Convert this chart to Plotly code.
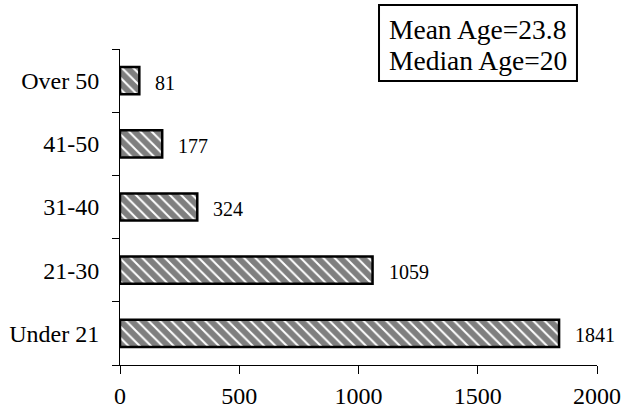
import plotly.graph_objects as go

categories = ["Under 21", "21-30", "31-40", "41-50", "Over 50"]
counts = [1841, 1059, 324, 177, 81]
x_ticks = [0, 500, 1000, 1500, 2000]
stats_text = ["Mean Age=23.8", "Median Age=20"]

FONT = "Liberation Serif, Times New Roman, serif"

fig = go.Figure()
fig.add_trace(go.Bar(
    y=categories, x=counts, orientation="h", width=0.43,
    marker=dict(color="white", line=dict(color="black", width=2.5),
                pattern=dict(shape="\\", fgcolor="black", bgcolor="white", size=8, solidity=0.75)),
    showlegend=False, hoverinfo="skip",
))

for c, v in zip(categories, counts):
    fig.add_annotation(x=v, y=c, text=str(v), showarrow=False, xanchor="left",
                       xshift=14, yshift=-2, font=dict(family=FONT, size=20, color="black"))

# statistics box
fig.add_shape(type="rect", xref="paper", yref="paper", x0=0.543, x1=0.958, y0=0.899, y1=1.139,
              line=dict(color="black", width=2), fillcolor="white", layer="above")
for txt, yy in zip(stats_text, [1.063, 0.965]):
    fig.add_annotation(xref="paper", yref="paper", x=0.559, y=yy, xanchor="left", yanchor="middle",
                       text=txt, showarrow=False, font=dict(family=FONT, size=27.5, color="black"))

fig.update_layout(
    width=621, height=414,
    margin=dict(l=120, r=24, t=49, b=49),
    paper_bgcolor="white", plot_bgcolor="white",
    font=dict(family=FONT, size=24, color="black"),
    xaxis=dict(range=[0, 2000], tickvals=x_ticks, ticks="outside", ticklen=8, tickcolor="black",
               showline=True, linecolor="black", linewidth=1, showgrid=False, zeroline=False,
               tickfont=dict(size=24), ticklabelstandoff=1, automargin=False),
    yaxis=dict(categoryorder="array", categoryarray=categories, ticks="outside", tickson="boundaries",
               ticklen=7, tickcolor="black", showline=True, linecolor="black", linewidth=1,
               showgrid=False, tickfont=dict(size=24), ticklabelstandoff=15, automargin=False),
)

fig.write_html("out.html", config={"displayModeBar": False},
               post_script="document.body.style.margin='0';document.body.style.overflow='hidden';")
